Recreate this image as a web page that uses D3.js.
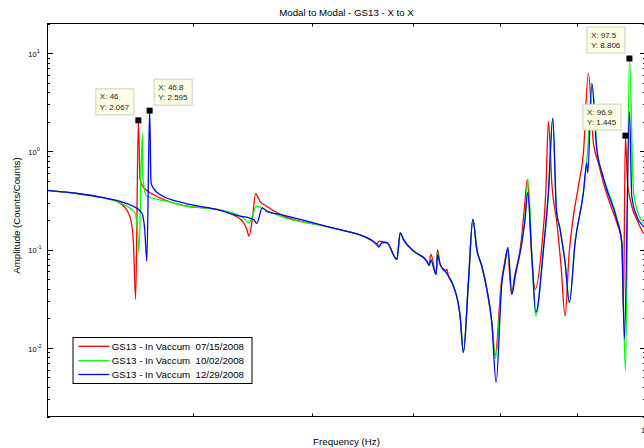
<!DOCTYPE html>
<html>
<head>
<meta charset="utf-8">
<script src="https://cdn.jsdelivr.net/npm/d3@7"></script>
<style>
body { margin: 0; background: #fff; overflow: hidden; }
svg { display: block; font-family: "Liberation Sans", Arial, sans-serif; }
</style>
</head>
<body>
<div id="chart"></div>
<script>
// Measurement 07/15/2008 (red)
var freqRed = [40, 42, 43.4, 44.7, 45.4, 45.64, 45.81, 46.0, 46.12, 46.24, 46.6, 47.06,
    49.27, 51.86, 53.2, 54.0, 54.3, 54.48, 54.75, 55.04, 55.4, 55.98,
    57.13, 61.68, 65.58, 66.2, 66.5, 67.27, 68.31, 68.66, 69.0, 70.07,
    71.52, 71.77, 71.95, 72.54, 72.69, 72.99, 73.55, 73.74, 73.92, 74.48,
    75.25, 75.63, 76.21, 76.73, 77.2, 77.79, 78.39, 78.99, 79.39, 80.15,
    80.55, 80.9, 81.4, 81.8, 82.6, 83.0, 83.41, 83.9, 84.4, 85.27,
    85.8, 86.13, 86.6, 87.25, 87.8, 88.36, 88.9, 89.49, 90.2, 90.87,
    91.56, 92.27, 93.0, 93.69, 94.6, 95.63, 96.37, 96.6, 96.9, 97.2,
    97.85, 98.6, 99.6, 100];
var ampRed = [0.40, 0.37, 0.341, 0.299, 0.219, 0.127, 0.0312, 2.067, 0.52, 0.46, 0.4, 0.363,
    0.28, 0.256, 0.225, 0.19, 0.16, 0.137, 0.2, 0.37, 0.31, 0.276,
    0.228, 0.168, 0.127, 0.113, 0.122, 0.1175, 0.0795, 0.148, 0.127, 0.0966,
    0.0764, 0.0691, 0.09, 0.056, 0.1, 0.0707, 0.0605, 0.063, 0.0538, 0.0426,
    0.0211, 0.009, 0.0461, 0.203, 0.1005, 0.068, 0.0394, 0.0181, 0.0083, 0.0461,
    0.0736, 0.1, 0.0351, 0.0538, 0.1175, 0.25, 0.516, 0.1, 0.0394, 0.1085,
    0.4, 2.02, 0.45, 0.188, 0.07, 0.0211, 0.09, 0.219, 0.45, 0.963,
    6.2, 1.217, 0.75, 0.478, 0.3, 0.188, 0.1175, 0.0247, 1.445, 0.5,
    0.276, 0.203, 0.148, 0.14];

// Measurement 10/02/2008 (green)
var freqGreen = [40, 42, 43.4, 45.19, 45.76, 45.95, 46.04, 46.28, 46.31, 46.35, 46.59,
    48.04, 49.27, 51.86, 53.74, 54.1, 54.48, 55.13, 55.98, 57.13, 61.68,
    65.58, 66.2, 66.45, 66.8, 67.27, 68.31, 68.66, 69.0, 70.07, 71.52,
    71.77, 71.95, 72.54, 72.69, 72.99, 73.55, 73.92, 74.48, 75.25, 75.63,
    76.21, 76.73, 77.2, 77.79, 78.39, 78.99, 79.45, 80.21, 80.61, 80.95,
    81.45, 81.86, 82.7, 83.1, 83.5, 84.0, 84.49, 85.48, 86.13, 86.71,
    87.2, 87.69, 88.36, 88.94, 89.72, 90.87, 91.4, 92.1, 92.75, 93.5,
    94.18, 95.63, 96.37, 96.9, 97.5, 98.09, 98.6, 99.6, 100];
var ampGreen = [0.40, 0.37, 0.341, 0.276, 0.237, 0.149, 0.093, 1.54, 0.56, 0.49, 0.349,
    0.311, 0.28, 0.256, 0.219, 0.205, 0.188, 0.276, 0.25, 0.219, 0.168,
    0.127, 0.113, 0.11, 0.118, 0.1175, 0.0795, 0.148, 0.127, 0.0966, 0.0764,
    0.0691, 0.08, 0.056, 0.092, 0.0707, 0.0605, 0.0538, 0.0426, 0.0211, 0.009,
    0.0461, 0.203, 0.1005, 0.068, 0.0394, 0.0181, 0.0078, 0.0461, 0.0736, 0.1045,
    0.0351, 0.0538, 0.1175, 0.22, 0.516, 0.08, 0.021, 0.1005, 0.378, 2.18,
    0.25, 0.16, 0.0736, 0.0289, 0.1175, 0.39, 0.9, 4.8, 1.1, 0.6,
    0.43, 0.21, 0.12, 0.00584, 8.806, 0.409, 0.26, 0.188, 0.18];

// Measurement 12/29/2008 (blue)
var freqBlue = [40, 42, 43.4, 45.64, 46.24, 46.45, 46.6, 46.8, 46.9, 47.06, 47.55,
    49.27, 51.86, 53.74, 54.48, 54.9, 55.13, 55.6, 55.98, 57.13, 61.68,
    65.58, 66.2, 66.45, 66.8, 67.27, 68.31, 68.66, 69.0, 70.07, 71.52,
    71.77, 71.95, 72.54, 72.69, 72.99, 73.55, 73.92, 74.48, 75.25, 75.63,
    76.21, 76.73, 77.2, 77.79, 78.39, 78.99, 79.51, 80.21, 80.61, 80.95,
    81.45, 81.86, 82.7, 83.1, 83.45, 84.0, 84.49, 85.48, 86.13, 86.71,
    87.2, 87.69, 88.36, 88.94, 89.72, 90.87, 91.34, 91.48, 92.04, 92.75,
    93.5, 94.18, 95.63, 96.37, 96.75, 97.5, 97.85, 98.6, 99.6, 100];
var ampBlue = [0.40, 0.37, 0.341, 0.276, 0.237, 0.16, 0.0764, 2.595, 0.478, 0.425, 0.363,
    0.299, 0.256, 0.219, 0.21, 0.2, 0.185, 0.266, 0.245, 0.228, 0.168,
    0.127, 0.115, 0.106, 0.118, 0.1175, 0.0795, 0.148, 0.127, 0.0966, 0.0764,
    0.0691, 0.078, 0.056, 0.089, 0.0707, 0.0605, 0.0538, 0.0426, 0.0211, 0.009,
    0.0461, 0.203, 0.1005, 0.068, 0.0394, 0.0181, 0.00445, 0.0461, 0.0736, 0.1045,
    0.0351, 0.0538, 0.1175, 0.2, 0.38, 0.08, 0.0229, 0.1005, 0.378, 2.18,
    0.25, 0.16, 0.0736, 0.0289, 0.1175, 0.378, 0.763, 0.604, 4.95, 1.04,
    0.6, 0.409, 0.203, 0.1175, 0.0123, 2.55, 0.349, 0.219, 0.173, 0.165];

var seriesNames = ["GS13 - In Vaccum  07/15/2008", "GS13 - In Vaccum  10/02/2008", "GS13 - In Vaccum  12/29/2008"];
var seriesColors = ["#ff0000", "#00ff00", "#0000ff"];

// data tips
var tipFreq = [46, 46.8, 97.5, 96.9];
var tipAmp = [2.067, 2.595, 8.806, 1.445];
var tipSide = ["left", "right", "left", "left"];

var svgWidth = 644;
var svgHeight = 448;
var plot = { left: 47, right: 646, top: 23.5, bottom: 416.5 };

var svg = d3.select("#chart")
    .append("svg")
    .attr("width", svgWidth)
    .attr("height", svgHeight);

var x = d3.scaleLog().domain([40, 100]).range([plot.left, plot.right]);
var y = d3.scaleLog().domain([0.002, 20]).range([plot.bottom, plot.top]);

// clip
svg.append("clipPath").attr("id", "clip")
    .append("rect")
    .attr("x", plot.left).attr("y", plot.top)
    .attr("width", plot.right - plot.left).attr("height", plot.bottom - plot.top);

// ticks on y (log, left + right)
var yTicks = [];
[-3, -2, -1, 0, 1].forEach(function(k) {
    for (var m = 1; m <= 9; m++) {
        var v = m * Math.pow(10, k);
        if (v >= 0.002 && v <= 20) yTicks.push({ v: v, major: m === 1 });
    }
});
var tickG = svg.append("g").attr("stroke", "#000").attr("stroke-width", 1);
yTicks.forEach(function(t) {
    var yy = Math.round(y(t.v)) + 0.5;
    var len = t.major ? 6 : 3;
    tickG.append("line").attr("x1", plot.left).attr("x2", plot.left + len).attr("y1", yy).attr("y2", yy);
    tickG.append("line").attr("x1", plot.right).attr("x2", plot.right - len).attr("y1", yy).attr("y2", yy);
});
var xTicks = [50, 60, 70, 80, 90];
xTicks.forEach(function(v) {
    var xx = Math.round(x(v)) + 0.5;
    tickG.append("line").attr("x1", xx).attr("x2", xx).attr("y1", plot.bottom).attr("y2", plot.bottom - 3);
    tickG.append("line").attr("x1", xx).attr("x2", xx).attr("y1", plot.top).attr("y2", plot.top + 3);
});

// y tick labels 10^k
var yLabels = [1, 0, -1, -2];
yLabels.forEach(function(k) {
    var yy = y(Math.pow(10, k));
    var t = svg.append("text").attr("x", 28.3).attr("y", yy + 3.8)
        .style("font-size", "7.5px");
    t.append("tspan").text("10");
    t.append("tspan").attr("dy", -4).style("font-size", "5.5px").text(k);
});
// x tick label at 100 (the frame cuts it, as in the original)
var xl = svg.append("text").attr("x", 641).attr("y", 432.7).style("font-size", "7.5px");
xl.append("tspan").text("10");
xl.append("tspan").attr("dy", -4).style("font-size", "5.5px").text("2");

// curves
var line = d3.line()
    .x(function(d) { return x(d[0]); })
    .y(function(d) { return y(d[1]); })
    .curve(d3.curveMonotoneX);

var seriesData = [
    d3.zip(freqRed, ampRed),
    d3.zip(freqGreen, ampGreen),
    d3.zip(freqBlue, ampBlue)
];

svg.append("g").attr("clip-path", "url(#clip)")
    .selectAll("path")
    .data(seriesData)
    .enter()
    .append("path")
    .attr("d", line)
    .attr("fill", "none")
    .attr("stroke", function(d, i) { return seriesColors[i]; })
    .attr("stroke-width", 1.3)
    .attr("stroke-linejoin", "round");

// axes box
svg.append("rect")
    .attr("x", plot.left + 0.5).attr("y", plot.top)
    .attr("width", plot.right - plot.left).attr("height", plot.bottom - plot.top)
    .attr("fill", "none").attr("stroke", "#000").attr("stroke-width", 1);

// legend
var legend = svg.append("g");
legend.append("rect")
    .attr("x", 73).attr("y", 337.5).attr("width", 179).attr("height", 46)
    .attr("fill", "#fff").attr("stroke", "#000").attr("stroke-width", 1);
var legendY = [346.3, 360.7, 374.5];
seriesNames.forEach(function(name, i) {
    legend.append("line")
        .attr("x1", 78.3).attr("x2", 109.3)
        .attr("y1", legendY[i]).attr("y2", legendY[i])
        .attr("stroke", seriesColors[i]).attr("stroke-width", 1.3);
    legend.append("text")
        .attr("x", 111.7).attr("y", legendY[i] + 3.5)
        .style("font-size", "9.7px")
        .style("white-space", "pre")
        .text(name);
});

// data tips
tipFreq.forEach(function(f, i) {
    var px = x(f), py = y(tipAmp[i]);
    var w = 38, h = 26;
    var bx = tipSide[i] === "left" ? px - 4.5 - w : px + 4.5;
    var by = py - 5.5 - h;
    svg.append("rect")
        .attr("x", bx).attr("y", by).attr("width", w).attr("height", h)
        .attr("fill", "#ffffe6").attr("stroke", "#cfcfc0").attr("stroke-width", 1);
    svg.append("text").attr("x", bx + 4).attr("y", by + 10.5)
        .style("font-size", "8px").attr("fill", "#222").text("X: " + f);
    svg.append("text").attr("x", bx + 4).attr("y", by + 21)
        .style("font-size", "8px").attr("fill", "#222").text("Y: " + tipAmp[i]);
    svg.append("rect")
        .attr("x", px - 3).attr("y", py - 3).attr("width", 6).attr("height", 6)
        .attr("fill", "#000");
});

// title and axis labels
svg.append("text")
    .attr("x", (plot.left + plot.right) / 2).attr("y", 15.5)
    .style("text-anchor", "middle").style("font-size", "9.7px")
    .text("Modal to Modal - GS13 - X to X");
svg.append("text")
    .attr("x", (plot.left + plot.right) / 2).attr("y", 444.5)
    .style("text-anchor", "middle").style("font-size", "9.7px")
    .text("Frequency (Hz)");
svg.append("text")
    .attr("transform", "rotate(-90)")
    .attr("x", -215.5).attr("y", 19.5)
    .style("text-anchor", "middle").style("font-size", "9.7px")
    .text("Amplitude (Counts/Counts)");
</script>
</body>
</html>
